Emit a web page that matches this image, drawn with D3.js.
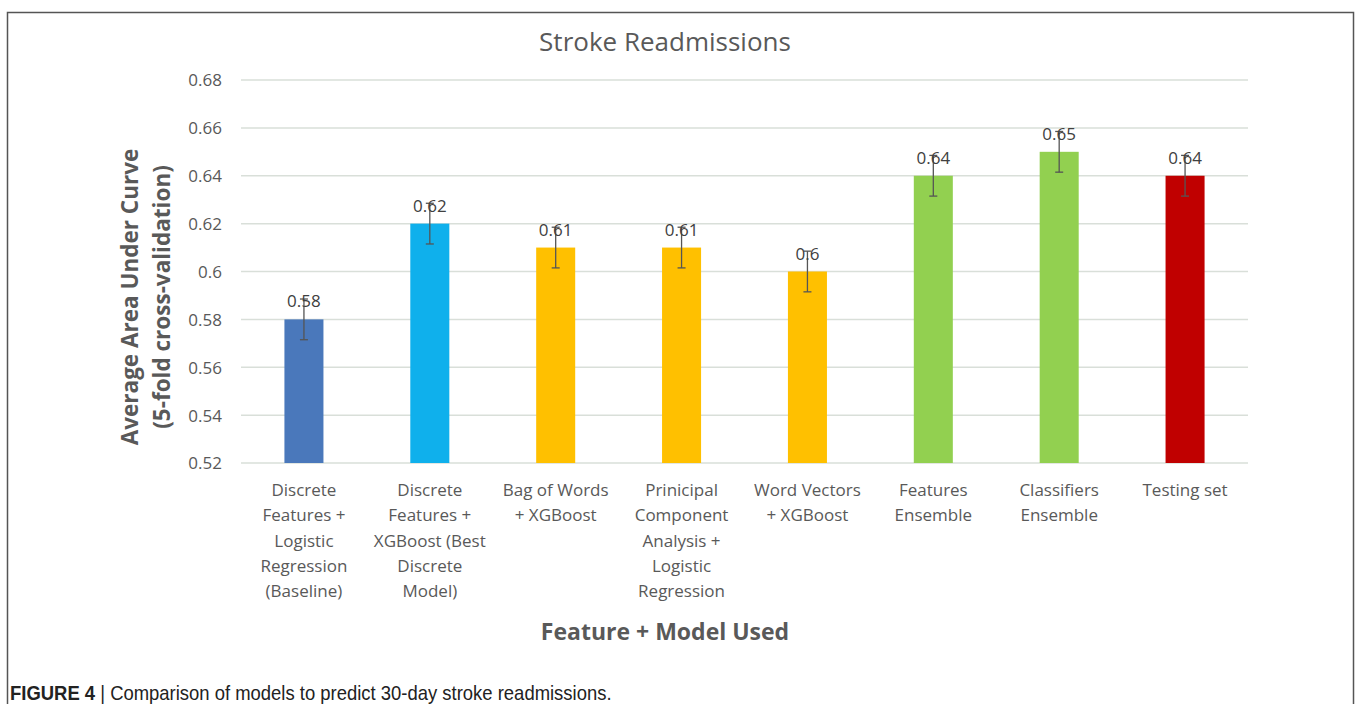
<!DOCTYPE html>
<html><head><meta charset="utf-8">
<script src="https://cdn.jsdelivr.net/npm/d3@7"></script>
<style>body{margin:0;background:#fff}svg{display:block}</style>
</head><body>
<svg id="c" width="1357" height="704"></svg>
<script>
const categories = [
  ["Discrete","Features +","Logistic","Regression","(Baseline)"],
  ["Discrete","Features +","XGBoost (Best","Discrete","Model)"],
  ["Bag of Words","+ XGBoost"],
  ["Prinicipal","Component","Analysis +","Logistic","Regression"],
  ["Word Vectors","+ XGBoost"],
  ["Features","Ensemble"],
  ["Classifiers","Ensemble"],
  ["Testing set"]
];
const values = [0.58, 0.62, 0.61, 0.61, 0.60, 0.64, 0.65, 0.64];
const labels = ["0.58","0.62","0.61","0.61","0.6","0.64","0.65","0.64"];
const errors = [0.0085, 0.0085, 0.0085, 0.0085, 0.0085, 0.0085, 0.0085, 0.0085];
const colors = ["#4a78bb","#0fb0ec","#ffc000","#ffc000","#ffc000","#92d050","#92d050","#c00000"];
const yTicks = [0.52,0.54,0.56,0.58,0.6,0.62,0.64,0.66,0.68];
const yTickLabels = ["0.52","0.54","0.56","0.58","0.6","0.62","0.64","0.66","0.68"];

const svg = d3.select("#c");
const font = "'Open Sans', sans-serif";
svg.append("rect").attr("x",7.5).attr("y",12.5).attr("width",1346).attr("height",700)
  .attr("fill","none").attr("stroke","#555").attr("stroke-width",1.5);

const x = d3.scaleBand().domain(d3.range(categories.length)).range([241,1248]).paddingInner(0.69).paddingOuter(0.345);
const y = d3.scaleLinear().domain([0.52,0.68]).range([463,80]);

const g = svg.append("g");
g.selectAll("line.grid").data(yTicks).join("line")
  .attr("x1",241).attr("x2",1248).attr("y1",d=>y(d)).attr("y2",d=>y(d))
  .attr("stroke","#d9dfd9").attr("stroke-width",1.5);

const yAxis = d3.axisLeft(y).tickValues(yTicks).tickFormat((d,i)=>yTickLabels[i]).tickSize(0).tickPadding(19);
const ya = svg.append("g").attr("transform","translate(241,0)").call(yAxis);
ya.select(".domain").remove();
ya.selectAll("text").attr("font-family",font).attr("font-size",17).attr("fill","#595959").attr("dy","0.35em");

g.selectAll("rect.bar").data(values).join("rect")
  .attr("x",(d,i)=>x(i)).attr("width",x.bandwidth())
  .attr("y",d=>y(d)).attr("height",d=>y(0.52)-y(d)).attr("fill",(d,i)=>colors[i]);

const eb = g.selectAll("g.err").data(values).join("g");
eb.append("line").attr("x1",(d,i)=>x(i)+x.bandwidth()/2).attr("x2",(d,i)=>x(i)+x.bandwidth()/2)
  .attr("y1",(d,i)=>y(d+errors[i])).attr("y2",(d,i)=>y(d-errors[i])).attr("stroke","#555").attr("stroke-width",1.3);
[1,-1].forEach(s=>{
  eb.append("line").attr("x1",(d,i)=>x(i)+x.bandwidth()/2-4).attr("x2",(d,i)=>x(i)+x.bandwidth()/2+4)
    .attr("y1",(d,i)=>y(d+s*errors[i])).attr("y2",(d,i)=>y(d+s*errors[i])).attr("stroke","#555").attr("stroke-width",1.3);
});

g.selectAll("text.val").data(values).join("text")
  .attr("x",(d,i)=>x(i)+x.bandwidth()/2).attr("y",d=>y(d)-12)
  .attr("text-anchor","middle").attr("font-family",font).attr("font-size",17).attr("fill","#404040")
  .text((d,i)=>labels[i]);

const cl = g.selectAll("text.cat").data(categories).join("text")
  .attr("text-anchor","middle").attr("font-family",font).attr("font-size",17).attr("fill","#595959");
cl.selectAll("tspan").data((d,i)=>d.map(t=>({t,i}))).join("tspan")
  .attr("x",d=>x(d.i)+x.bandwidth()/2).attr("y",(d,j)=>496+j*25.3).text(d=>d.t);

svg.append("text").attr("x",665).attr("y",51).attr("text-anchor","middle")
  .attr("font-family",font).attr("font-size",26).attr("fill","#595959").text("Stroke Readmissions");

const yt = svg.append("text").attr("transform","translate(0,297) rotate(-90)").attr("text-anchor","middle")
  .attr("font-family",font).attr("font-size",22.5).attr("font-weight","bold").attr("fill","#595959");
yt.append("tspan").attr("x",0).attr("y",138).text("Average Area Under Curve");
yt.append("tspan").attr("x",0).attr("y",170).text("(5-fold cross-validation)");

svg.append("text").attr("x",665).attr("y",640).attr("text-anchor","middle")
  .attr("font-family",font).attr("font-size",23).attr("font-weight","bold").attr("fill","#595959")
  .text("Feature + Model Used");

const cap = svg.append("text").attr("transform","translate(10,700) scale(0.9,1)")
  .attr("font-family","'Liberation Sans',Arial,sans-serif").attr("font-size",20.5).attr("fill","#222");
cap.append("tspan").attr("font-weight","bold").text("FIGURE 4");
cap.append("tspan").text(" | Comparison of models to predict 30-day stroke readmissions.");
</script>
</body></html>
